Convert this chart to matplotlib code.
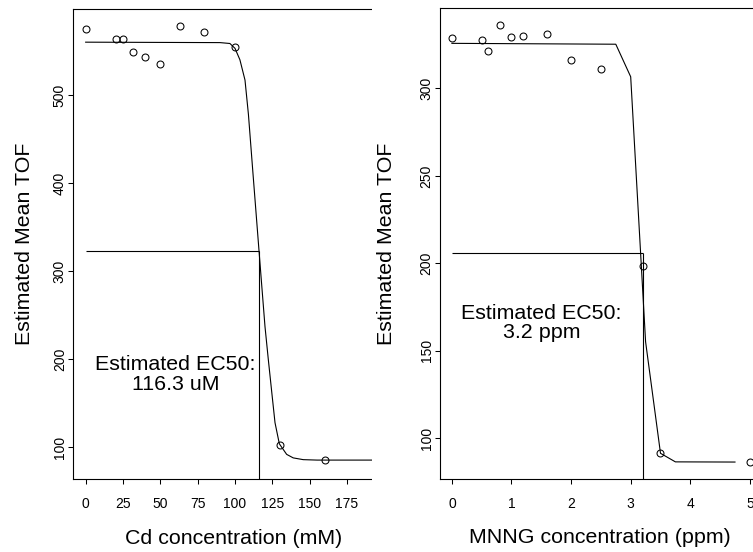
import matplotlib
matplotlib.use("Agg")
import matplotlib.pyplot as plt
from matplotlib.patches import Rectangle

plt.rcParams["font.family"] = ["Liberation Sans", "DejaVu Sans"]

# Cd dose response (observed means)
CD_CONC = [0, 20, 25, 32, 40, 50, 63, 79, 100, 130, 160]
CD_TOF = [575, 564, 564, 549, 543, 535, 578, 571, 554, 103, 86]

# Cd fitted curve
CD_FIT_X = [0, 90, 96.6, 100, 103.3, 106.7, 109, 112, 116.1, 118, 120.1,
            122.3, 124.6, 126.8, 129.7, 134.6, 139, 145.7, 155, 215]
CD_FIT_Y = [560, 559.5, 558.5, 553, 540, 517, 478, 412, 323, 282, 237,
            200, 163, 128, 104, 92, 88, 86, 85.5, 85.5]

CD_EC50 = 116.3
CD_HALF = 322.5

# MNNG dose response (observed means)
MNNG_CONC = [0, 0.5, 0.6, 0.8, 1.0, 1.2, 1.6, 2.0, 2.5, 3.2, 3.5, 5.0]
MNNG_TOF = [329, 327.5, 321.5, 336, 329.5, 330, 331, 316, 311, 198.5,
            91.5, 86.5]

# MNNG fitted curve
MNNG_FIT_X = [0, 2.75, 3.0, 3.25, 3.5, 3.75, 4.75]
MNNG_FIT_Y = [325.7, 325.2, 306.6, 155.2, 91.5, 86.6, 86.5]

MNNG_EC50 = 3.2
MNNG_HALF = 206.1

CD_XTICKS = [0, 25, 50, 75, 100, 125, 150, 175, 200]
CD_YTICKS = [100, 200, 300, 400, 500]
MNNG_XTICKS = [0, 1, 2, 3, 4, 5]
MNNG_YTICKS = [100, 150, 200, 250, 300]


def plotDoseResponse(ax, conc, tof, fit_x, fit_y, ec50, half, xlim, ylim):
    """Plots observed points, the fitted curve and the EC50 guide lines"""
    ax.set_xlim(xlim)
    ax.set_ylim(ylim)

    ax.plot(fit_x, fit_y, color="black", linewidth=0.8)
    ax.plot(conc, tof, linestyle="", marker="o", markersize=5,
            markerfacecolor="none", markeredgecolor="black",
            markeredgewidth=0.75)

    # EC50 guide lines
    ax.hlines(half, 0, ec50, color="black", linewidth=0.8)
    ax.vlines(ec50, ylim[0], half, color="black", linewidth=0.8)

    for spine in ax.spines.values():
        spine.set_linewidth(0.8)

    ax.tick_params(axis="both", direction="out", length=3.6, width=0.75,
                   labelsize=10)
    ax.tick_params(axis="x", pad=9.5)
    ax.tick_params(axis="y", pad=1, labelrotation=90)
    for lab in ax.get_yticklabels():
        lab.set_verticalalignment("center")


fig = plt.figure(figsize=(7.53, 5.52), dpi=100)

ax1 = fig.add_axes([0.0973, 0.1322, 0.4444, 0.8514], zorder=0)
plotDoseResponse(ax1, CD_CONC, CD_TOF, CD_FIT_X, CD_FIT_Y, CD_EC50,
                 CD_HALF, (-8.3, 215.8), (64, 597.6))
ax1.set_xticks(CD_XTICKS)
ax1.set_yticks(CD_YTICKS)
ax1.set_xlabel("Cd concentration (mM)", fontsize=15.4)
ax1.set_ylabel("Estimated Mean TOF", fontsize=15.4)
ax1.xaxis.set_label_coords(0.479, -0.1255)
ax1.yaxis.set_label_coords(-0.147, 0.5)
ax1.xaxis.label.set_verticalalignment("center")
ax1.yaxis.label.set_verticalalignment("center")
ax1.text(60, 183, "Estimated EC50:\n116.3 uM", ha="center", va="center",
         fontsize=15.4, linespacing=1.05)

ax2 = fig.add_axes([0.5843, 0.1322, 0.4274, 0.8527], zorder=2)
plotDoseResponse(ax2, MNNG_CONC, MNNG_TOF, MNNG_FIT_X, MNNG_FIT_Y,
                 MNNG_EC50, MNNG_HALF, (-0.2, 5.2), (76.8, 345.7))
ax2.set_xticks(MNNG_XTICKS)
ax2.set_yticks(MNNG_YTICKS)
ax2.set_xlabel("MNNG concentration (ppm)", fontsize=15.4)
ax2.set_ylabel("Estimated Mean TOF", fontsize=15.4)
ax2.xaxis.set_label_coords(0.4956, -0.1234)
ax2.yaxis.set_label_coords(-0.165, 0.5)
ax2.xaxis.label.set_verticalalignment("center")
ax2.yaxis.label.set_verticalalignment("center")
ax2.text(1.5, 166, "Estimated EC50:\n3.2 ppm", ha="center", va="center",
         fontsize=15.4, linespacing=1.05)

# Left panel is cut off where the right panel begins
fig.add_artist(Rectangle((372 / 753, 0), 68 / 753, 1,
                         transform=fig.transFigure, facecolor="white",
                         edgecolor="none", zorder=1))

fig.savefig("out.png", dpi=100)
